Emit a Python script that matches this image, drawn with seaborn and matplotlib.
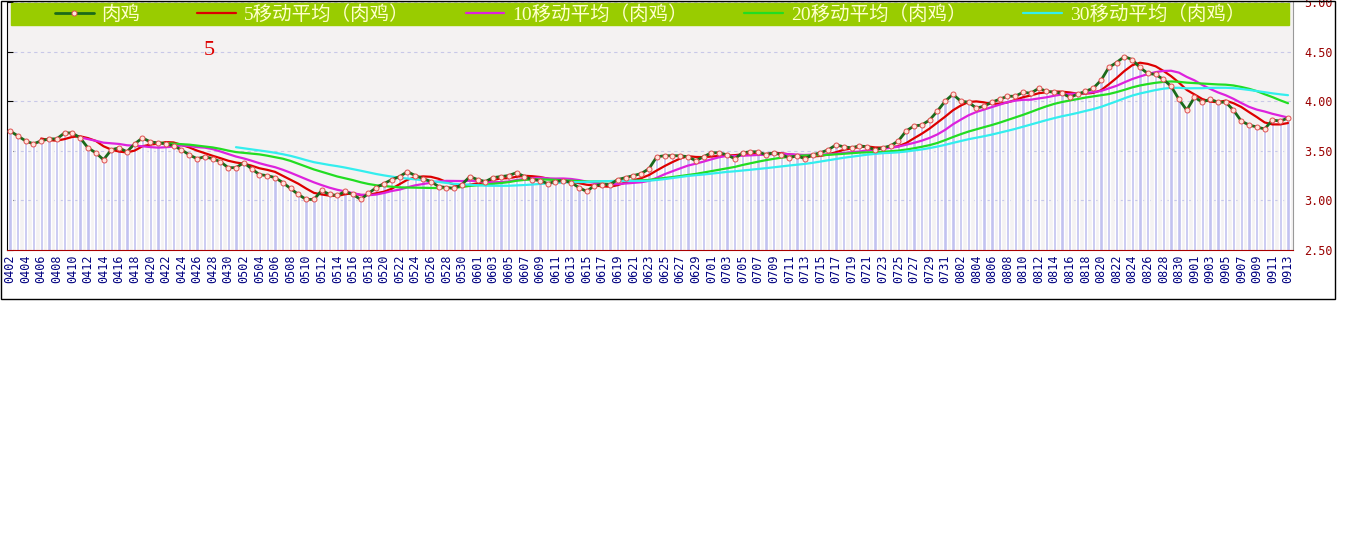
import numpy as np
import pandas as pd
import matplotlib
matplotlib.use("Agg")
import matplotlib.pyplot as plt
from matplotlib.patches import Rectangle
import seaborn as sns

# prix du poulet (肉鸡), un point par jour
apr = [3.70, 3.65, 3.60, 3.57, 3.60, 3.62, 3.62, 3.68, 3.68, 3.63, 3.53, 3.48, 3.41, 3.51, 3.53,
       3.49, 3.57, 3.63, 3.59, 3.58, 3.57, 3.55, 3.51, 3.46, 3.42, 3.44, 3.42, 3.39, 3.33]
may = [3.33, 3.38, 3.32, 3.26, 3.25, 3.23, 3.18, 3.12, 3.06, 3.01, 3.01, 3.10, 3.06, 3.05, 3.09, 3.06,
       3.01, 3.07, 3.13, 3.17, 3.21, 3.24, 3.29, 3.25, 3.22, 3.19, 3.14, 3.13, 3.12, 3.16, 3.24]
jun = [3.21, 3.19, 3.23, 3.24, 3.25, 3.28, 3.24, 3.21, 3.20, 3.17, 3.19, 3.20, 3.18, 3.13, 3.09,
       3.15, 3.16, 3.16, 3.21, 3.23, 3.25, 3.27, 3.32, 3.44, 3.45, 3.45, 3.45, 3.44, 3.40, 3.44]
jul = [3.48, 3.48, 3.46, 3.42, 3.48, 3.49, 3.49, 3.46, 3.48, 3.46, 3.43, 3.45, 3.42, 3.46, 3.48, 3.51,
       3.56, 3.54, 3.53, 3.55, 3.54, 3.51, 3.53, 3.55, 3.60, 3.70, 3.75, 3.76, 3.81, 3.90, 4.00]
aug = [4.07, 4.00, 3.99, 3.93, 3.95, 3.99, 4.02, 4.05, 4.05, 4.09, 4.08, 4.13, 4.10, 4.09, 4.08, 4.04,
       4.07, 4.10, 4.13, 4.21, 4.34, 4.39, 4.45, 4.42, 4.34, 4.28, 4.27, 4.22, 4.15, 4.02, 3.91]
sep = [4.04, 3.99, 4.02, 3.99, 3.99, 3.91, 3.80, 3.76, 3.74, 3.72, 3.81, 3.80, 3.83]

windows = [5, 10, 20, 30]
ma_colors = ["#DD0000", "#DD22DD", "#22DD22", "#33EEEE"]
y_ticks = [2.5, 3.0, 3.5, 4.0, 4.5, 5.0]

price = apr + may + jun + jul + aug + sep
dates = pd.date_range("2024-04-02", "2024-09-13").strftime("%m%d")
df = pd.DataFrame({"date": dates, "pos": np.arange(len(price)), "price": price})
for w in windows:
    df[f"ma{w}"] = df["price"].rolling(w).mean()

sns.set_style("white")
plt.rcParams["font.family"] = ["DejaVu Sans", "Noto Sans CJK SC"]

W, H = 1346, 541
fig = plt.figure(figsize=(W / 100, H / 100), dpi=100)
ax = fig.add_axes([7 / W, 1 - 250 / H, (1293 - 7) / W, 248 / H])
ax.set_facecolor("#F4F2F2")

# barres
sns.barplot(data=df, x="pos", y="price", native_scale=True, color="#C2C2F0",
            saturation=1, width=0.42, errorbar=None, ax=ax, zorder=2)

# moyennes mobiles
for w, c in zip(windows, ma_colors):
    sns.lineplot(data=df, x="pos", y=f"ma{w}", color=c, lw=1.6,
                 label=f"{w}移动平均（肉鸡）", ax=ax, zorder=3)

# courbe principale
sns.lineplot(data=df, x="pos", y="price", color="#1A6A1A", lw=2.0, marker="o",
             markersize=3.6, markerfacecolor="#FFE4DC", markeredgecolor="#E05050",
             markeredgewidth=0.7, label="肉鸡", ax=ax, zorder=4)

ax.set_xlim(-0.385, len(price) - 1 + 0.64)
ax.set_ylim(2.5, 5.0)
ax.set_xlabel("")
ax.set_ylabel("")

ax.set_xticks(df["pos"])
ax.set_xticklabels([d if i % 2 == 0 else "" for i, d in enumerate(dates)])
ax.tick_params(axis="x", direction="in", length=4, width=1, color="#AA0000",
               labelcolor="#000080", labelsize=8.5, rotation=90, pad=3)
for lbl in ax.get_xticklabels():
    lbl.set_family("DejaVu Sans Mono")

ax.set_yticks(y_ticks)
ax.set_yticklabels([f"{v:.2f}" for v in y_ticks])
ax.tick_params(axis="y", left=True, right=False, labelleft=False, labelright=True,
               direction="in", length=4, color="black", labelcolor="#990000",
               labelsize=8.5, pad=8)
for lbl in ax.get_yticklabels():
    lbl.set_family("DejaVu Sans Mono")

ax.yaxis.grid(True, ls=(0, (3, 3)), color="#C8C8E8", lw=0.8)
ax.xaxis.grid(False)
ax.set_axisbelow(True)

ax.spines["top"].set_visible(False)
ax.spines["left"].set_color("black")
ax.spines["bottom"].set_color("#AA0000")
ax.spines["right"].set_color("#999999")

# bandeau vert de la legende
ax.add_patch(Rectangle((4 / 1286, 1 - 23 / 248), 1278 / 1286, 22 / 248,
                       transform=ax.transAxes, color="#99CC00", zorder=5, clip_on=False))
handles, labels = ax.get_legend_handles_labels()
order = [4, 0, 1, 2, 3]
leg = ax.legend([handles[i] for i in order], [labels[i] for i in order],
                loc="center", bbox_to_anchor=(0.5, 1 - 12.5 / 248), ncol=5, frameon=False,
                prop={"family": ["Liberation Serif", "Noto Sans CJK SC"], "size": 14},
                labelcolor="#FFFFCC", handlelength=2.0, handletextpad=0.4,
                columnspacing=2.9, borderpad=0)
leg.set_zorder(6)

ax.text(0.157, 0.806, "5", transform=ax.transAxes, color="#DD0000", fontsize=16,
        family="Liberation Serif", ha="center", va="center")

# cadre exterieur
fig.add_artist(Rectangle((0.5 / W, 1 - 298.5 / H), 1334.5 / W, 298 / H,
                         transform=fig.transFigure, fill=False, ec="black", lw=1))

fig.savefig("out.png", dpi=100)
